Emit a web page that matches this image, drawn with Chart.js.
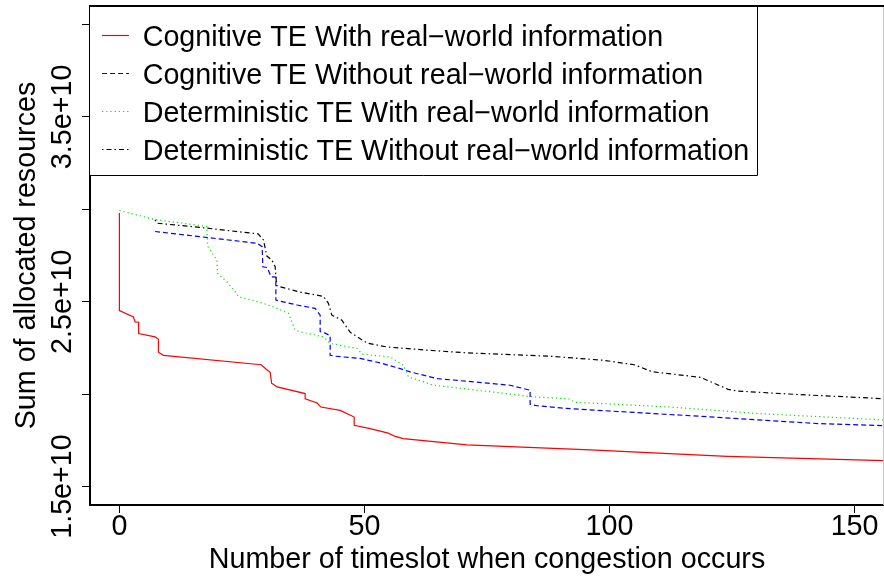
<!DOCTYPE html>
<html><head><meta charset="utf-8">
<script src="https://cdn.jsdelivr.net/npm/chart.js@4"></script>
<style>html,body{margin:0;padding:0;background:#fff;overflow:hidden;}canvas{display:block;}</style>
</head><body>
<canvas id="c" width="884" height="578"></canvas>
<script>
// ---- data (x: timeslot, y: sum of allocated resources) ----
const seriesLabels = [
  'Cognitive TE With real\u2212world information',
  'Cognitive TE Without real\u2212world information',
  'Deterministic TE With real\u2212world information',
  'Deterministic TE Without real\u2212world information'
];
const cogWithX = [0, 0, 2.86, 3.2, 3.92, 3.92, 7.29, 7.96, 7.96, 8.98, 28.92, 30.08, 30.76, 31.06, 32.18, 37.9, 37.9, 40.35, 41.1, 45.04, 47.9, 47.9, 51.16, 54.84, 56.27, 57.9, 70.9, 96.06, 124.0, 160];
const cogWithY = [2.980e10, 2.452e10, 2.417e10, 2.391e10, 2.389e10, 2.328e10, 2.310e10, 2.297e10, 2.227e10, 2.210e10, 2.159e10, 2.132e10, 2.118e10, 2.059e10, 2.039e10, 2.003e10, 1.975e10, 1.952e10, 1.930e10, 1.912e10, 1.876e10, 1.831e10, 1.813e10, 1.789e10, 1.771e10, 1.759e10, 1.725e10, 1.698e10, 1.663e10, 1.637e10];
const cogWithoutX = [7.29, 28.1, 29.12, 29.27, 30.14, 30.96, 31.92, 31.92, 32.8, 36.27, 39.94, 40.96, 40.96, 41.98, 43.0, 43.0, 44.02, 49.12, 53.2, 57.29, 59.33, 64.84, 79.7, 83.8, 83.8, 85.2, 91.98, 115.3, 143.0, 160];
const cogWithoutY = [2.880e10, 2.816e10, 2.798e10, 2.689e10, 2.685e10, 2.635e10, 2.633e10, 2.509e10, 2.503e10, 2.482e10, 2.464e10, 2.427e10, 2.338e10, 2.330e10, 2.316e10, 2.210e10, 2.205e10, 2.193e10, 2.169e10, 2.138e10, 2.120e10, 2.084e10, 2.048e10, 2.021e10, 1.945e10, 1.937e10, 1.921e10, 1.885e10, 1.840e10, 1.826e10];
const detWithX = [0, 6.94, 17.84, 17.96, 19.88, 20.0, 21.92, 23.61, 24.29, 29.39, 32.12, 34.49, 35.86, 36.88, 41.63, 43.0, 48.5, 49.53, 55.24, 57.96, 58.98, 64.08, 76.33, 84.49, 91.63, 93.0, 112.4, 130.8, 160];
const detWithY = [2.994e10, 2.946e10, 2.907e10, 2.802e10, 2.726e10, 2.654e10, 2.608e10, 2.554e10, 2.527e10, 2.491e10, 2.464e10, 2.437e10, 2.346e10, 2.337e10, 2.310e10, 2.274e10, 2.247e10, 2.216e10, 2.201e10, 2.156e10, 2.093e10, 2.048e10, 2.011e10, 1.985e10, 1.975e10, 1.956e10, 1.930e10, 1.894e10, 1.855e10];
const detWithoutX = [7.29, 7.63, 17.84, 28.31, 29.39, 30.08, 31.1, 31.78, 32.08, 32.8, 36.88, 41.63, 42.65, 43.35, 45.39, 47.08, 50.55, 54.57, 62.73, 70.9, 87.9, 98.78, 105.04, 108.71, 118.51, 124.2, 126.0, 137.55, 160];
const detWithoutY = [2.943e10, 2.925e10, 2.898e10, 2.867e10, 2.834e10, 2.747e10, 2.726e10, 2.689e10, 2.587e10, 2.581e10, 2.552e10, 2.529e10, 2.491e10, 2.427e10, 2.400e10, 2.335e10, 2.276e10, 2.255e10, 2.238e10, 2.223e10, 2.205e10, 2.183e10, 2.159e10, 2.121e10, 2.091e10, 2.026e10, 2.017e10, 1.999e10, 1.970e10];

const xTickValues = [0, 50, 100, 150];
const yTickValues = [1.5e10, 2.0e10, 2.5e10, 3.0e10, 3.5e10, 4.0e10];
const yLabelValues = [1.5e10, 2.5e10, 3.5e10];
const yLabelTexts = ['1.5e+10', '2.5e+10', '3.5e+10'];
const xTitle = 'Number of timeslot when congestion occurs';
const yTitle = 'Sum of allocated resources';

// ---- build ----
const FONT = '"Liberation Sans", Arial, Helvetica, sans-serif';
const FS = 28.7;
const pts = (xs, ys) => xs.map((x, i) => ({x: x, y: ys[i]}));

const datasets = [
  {label: seriesLabels[0], data: pts(cogWithX, cogWithY), borderColor: '#ff0000', borderWidth: 1.2, borderDash: []},
  {label: seriesLabels[1], data: pts(cogWithoutX, cogWithoutY), borderColor: '#0000ff', borderWidth: 1.2, borderDash: [5, 3]},
  {label: seriesLabels[2], data: pts(detWithX, detWithY), borderColor: '#00e000', borderWidth: 1.2, borderDash: [1.2, 3]},
  {label: seriesLabels[3], data: pts(detWithoutX, detWithoutY), borderColor: '#000000', borderWidth: 1.2, borderDash: [1.5, 3, 5, 3]}
].map(d => Object.assign(d, {fill: false, pointRadius: 0, tension: 0}));

const decor = {
  id: 'rDecor',
  afterDraw(chart) {
    const ctx = chart.ctx, ca = chart.chartArea, ys = chart.scales.y;
    ctx.save();
    // right edge faint border
    ctx.strokeStyle = '#c8c8c8'; ctx.lineWidth = 1;
    ctx.beginPath(); ctx.moveTo(883.5, ca.top); ctx.lineTo(883.5, ca.bottom); ctx.stroke();
    // legend box
    const lx0 = ca.left, ly0 = ca.top, lx1 = 757.5, ly1 = 175.5;
    ctx.fillStyle = '#fff'; ctx.fillRect(lx0, ly0, lx1 - lx0, ly1 - ly0);
    ctx.strokeStyle = '#000'; ctx.lineWidth = 1;
    ctx.beginPath(); ctx.moveTo(lx0, ly1); ctx.lineTo(lx1, ly1); ctx.lineTo(lx1, ly0); ctx.stroke();
    // top border of plot
    ctx.lineWidth = 2;
    ctx.beginPath(); ctx.moveTo(ca.left - 1, ca.top); ctx.lineTo(884, ca.top); ctx.stroke();
    // legend entries
    ctx.font = FS + 'px ' + FONT; ctx.textAlign = 'left'; ctx.textBaseline = 'alphabetic';
    chart.data.datasets.forEach((ds, i) => {
      const y = 35.5 + i * 38;
      ctx.save();
      ctx.strokeStyle = ds.borderColor; ctx.lineWidth = 1.2; ctx.setLineDash(ds.borderDash || []);
      ctx.beginPath(); ctx.moveTo(102, y); ctx.lineTo(129, y); ctx.stroke();
      ctx.restore();
      ctx.fillStyle = '#000';
      ctx.fillText(ds.label, 142.7, y + 10.5);
    });
    // y tick labels (rotated, as in R)
    ctx.textAlign = 'center';
    yLabelValues.forEach((v, i) => {
      const py = ys.getPixelForValue(v);
      ctx.save(); ctx.translate(70.5, py); ctx.rotate(-Math.PI / 2);
      ctx.fillText(yLabelTexts[i], 0, 0); ctx.restore();
    });
    // y title
    ctx.save(); ctx.translate(34.5, (ca.top + ca.bottom) / 2); ctx.rotate(-Math.PI / 2);
    ctx.fillText(yTitle, 0, 0); ctx.restore();
    ctx.restore();
  }
};

new Chart(document.getElementById('c'), {
  type: 'line',
  data: {datasets: datasets},
  plugins: [decor],
  options: {
    responsive: false, animation: false, devicePixelRatio: 1, events: [],
    layout: {padding: {top: 6, right: 0, left: 0, bottom: 0}},
    plugins: {legend: {display: false}, tooltip: {enabled: false}},
    scales: {
      x: {
        type: 'linear', min: -6, max: 156,
        afterBuildTicks: s => { s.ticks = xTickValues.map(v => ({value: v})); },
        afterFit: s => { s.height = 73; s.paddingLeft = 0; s.paddingRight = 0; },
        grid: {display: true, drawOnChartArea: false, drawTicks: true, tickLength: 8, tickColor: '#000', tickWidth: 1, lineWidth: 1},
        border: {display: true, color: '#000', width: 2},
        ticks: {color: '#000', padding: 0, maxRotation: 0, font: {family: FONT, size: FS, lineHeight: 1.0}, callback: v => String(v)},
        title: {display: true, text: xTitle, color: '#000', font: {family: FONT, size: FS, lineHeight: 1.2}, padding: {top: 0, bottom: 1}}
      },
      y: {
        type: 'linear', min: 1.4e10, max: 4.1e10,
        afterBuildTicks: s => { s.ticks = yTickValues.map(v => ({value: v})); },
        afterFit: s => { s.width = 90; s.paddingTop = 0; s.paddingBottom = 0; },
        grid: {display: true, drawOnChartArea: false, drawTicks: true, tickLength: 8, tickColor: '#000', tickWidth: 1, lineWidth: 1},
        border: {display: true, color: '#000', width: 2},
        ticks: {display: false}
      }
    }
  }
});
</script>
</body></html>
